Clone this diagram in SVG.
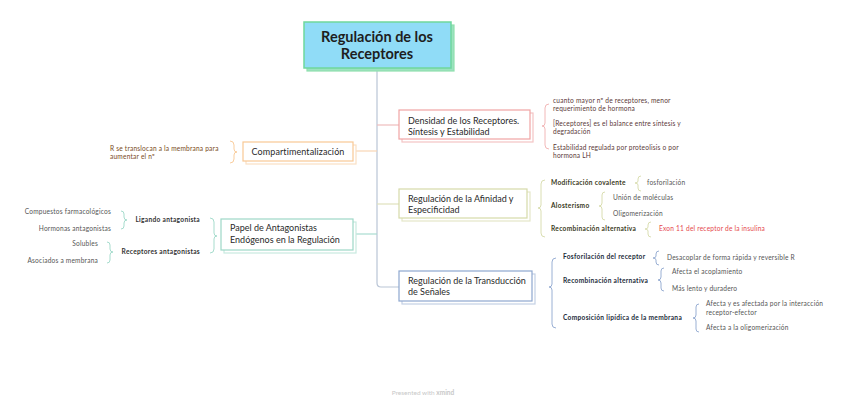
<svg xmlns="http://www.w3.org/2000/svg" width="848" height="404" viewBox="0 0 848 404">
<style>
text{font-family:Lato,"Noto Sans","Open Sans",sans-serif}
.title{font-size:14.5px;font-weight:bold;fill:#1e1e1e;text-anchor:middle}
.nt{font-size:9px;fill:#2a2a2a}
.leaf{font-size:6.6px;fill:#555;letter-spacing:0.2px}
.lab{font-size:6.6px;font-weight:bold;fill:#333;letter-spacing:0.3px}
.card{fill:#fff;stroke-width:1.2}
.br{fill:none;stroke-width:0.9}
.cn{fill:none;stroke-width:1.2}
</style>
<rect width="848" height="404" fill="#fff"/>
<g id="connectors">
<path class="cn" stroke="#b9c5d6" d="M377 71 V283 Q377 287 381 287 H399"/>
<path class="cn" stroke="#efbcbc" d="M377 125 H399"/>
<path class="cn" stroke="#dfe2bd" d="M377 204 H399"/>
<path class="cn" stroke="#f9d6b4" d="M377 151 H356"/>
<path class="cn" stroke="#a9ddd0" d="M377 234 H356"/>
</g>
<g id="central">
<rect x="307" y="25" width="147" height="46" fill="#9be2c0" stroke="#8fdfae" stroke-width="1.2"/>
<rect x="304" y="22" width="147" height="46" fill="#90dcf7" stroke="#6fd79c" stroke-width="1.5"/>
<text class="title" x="377" y="42">Regulación de los</text>
<text class="title" x="377" y="59">Receptores</text>
</g>
<g id="densidad">
<rect class="card" x="402" y="113" width="131" height="29" stroke="#f4c4c4"/>
<rect class="card" x="399" y="110" width="131" height="29" stroke="#f0a4a4"/>
<text class="nt" x="408" y="123.5">Densidad de los Receptores.</text>
<text class="nt" x="408" y="134.5">Síntesis y Estabilidad</text>
<path class="br" stroke="#f0b0b0" d="M549 104 Q545 104 545 108 V123 Q545 126 542 126 Q545 126 545 129 V145 Q545 149 549 149"/>
<text class="leaf" x="553" y="103" style="fill:#5a3838">cuanto mayor nº de receptores, menor</text>
<text class="leaf" x="553" y="111" style="fill:#5a3838">requerimiento de hormona</text>
<text class="leaf" x="553" y="126" style="fill:#5a3838">[Receptores] es el balance entre síntesis y</text>
<text class="leaf" x="553" y="134" style="fill:#5a3838">degradación</text>
<text class="leaf" x="553" y="150" style="fill:#5a3838">Estabilidad regulada por proteolisis o por</text>
<text class="leaf" x="553" y="158" style="fill:#5a3838">hormona LH</text>
</g>
<g id="afinidad">
<rect class="card" x="402" y="192" width="128" height="29" stroke="#e4e7c8"/>
<rect class="card" x="399" y="189" width="128" height="29" stroke="#d6daa9"/>
<text class="nt" x="408" y="202">Regulación de la Afinidad y</text>
<text class="nt" x="408" y="213">Especificidad</text>
<path class="br" stroke="#d6daa9" d="M545 180 Q541 180 541 184 V205 Q541 208 538 208 Q541 208 541 211 V233 Q541 237 545 237"/>
<text class="lab" x="551" y="185" style="fill:#3a3a22">Modificación covalente</text>
<text class="lab" x="551" y="208" style="fill:#3a3a22">Alosterismo</text>
<text class="lab" x="551" y="231" style="fill:#3a3a22">Recombinación alternativa</text>
<path class="br" stroke="#d6daa9" d="M641 176 Q638 176 638 179 V181 Q638 183 635 183 Q638 183 638 185 V188 Q638 191 641 191"/>
<text class="leaf" x="647" y="185">fosforilación</text>
<path class="br" stroke="#d6daa9" d="M605 192 Q602 192 602 195 V203 Q602 206 599 206 Q602 206 602 209 V217 Q602 220 605 220"/>
<text class="leaf" x="613" y="200">Unión de moléculas</text>
<text class="leaf" x="613" y="216">Oligomerización</text>
<path class="br" stroke="#d6daa9" d="M651 222 Q648 222 648 225 V227 Q648 229 645 229 Q648 229 648 231 V234 Q648 237 651 237"/>
<text class="leaf" x="659" y="231" style="fill:#e5484d">Exon 11 del receptor de la insulina</text>
</g>
<g id="transduccion">
<rect class="card" x="402" y="274" width="133" height="30" stroke="#c4d0e4"/>
<rect class="card" x="399" y="271" width="133" height="30" stroke="#8ea7cf"/>
<text class="nt" x="408" y="284">Regulación de la Transducción</text>
<text class="nt" x="408" y="295">de Señales</text>
<path class="br" stroke="#8ea7cf" d="M556 258 Q552 258 552 262 V284 Q552 287 549 287 Q552 287 552 290 V324 Q552 328 556 328"/>
<text class="lab" x="563" y="259" style="fill:#222b3a">Fosforilación del receptor</text>
<text class="lab" x="563" y="283" style="fill:#222b3a">Recombinación alternativa</text>
<text class="lab" x="563" y="320" style="fill:#222b3a">Composición lipídica de la membrana</text>
<path class="br" stroke="#8ea7cf" d="M659 251 Q656 251 656 254 V256 Q656 258 653 258 Q656 258 656 260 V262 Q656 265 659 265"/>
<text class="leaf" x="667" y="260">Desacoplar de forma rápida y reversible R</text>
<path class="br" stroke="#8ea7cf" d="M664 268 Q661 268 661 271 V277 Q661 280 658 280 Q661 280 661 283 V288 Q661 291 664 291"/>
<text class="leaf" x="672" y="274">Afecta el acoplamiento</text>
<text class="leaf" x="672" y="291">Más lento y duradero</text>
<path class="br" stroke="#8ea7cf" d="M699 304 Q696 304 696 307 V315 Q696 318 693 318 Q696 318 696 321 V329 Q696 332 699 332"/>
<text class="leaf" x="706" y="306">Afecta y es afectada por la interacción</text>
<text class="leaf" x="706" y="315">receptor-efector</text>
<text class="leaf" x="706" y="330">Afecta a la oligomerización</text>
</g>
<g id="compartimentalizacion">
<rect class="card" x="246" y="145" width="110" height="19" stroke="#fbe0c4"/>
<rect class="card" x="243" y="142" width="110" height="19" stroke="#f8c894"/>
<text class="nt" x="298" y="155" text-anchor="middle" letter-spacing="0.1">Compartimentalización</text>
<path class="br" stroke="#f8c894" d="M230 141 Q234 141 234 145 V149 Q234 152 237 152 Q234 152 234 155 V159 Q234 163 230 163"/>
<text class="leaf" x="110" y="151" style="fill:#7a4a22">R se translocan a la membrana para</text>
<text class="leaf" x="110" y="159" style="fill:#7a4a22">aumentar el nº</text>
</g>
<g id="papel">
<rect class="card" x="224" y="222" width="132" height="31" stroke="#c8eae0"/>
<rect class="card" x="221" y="219" width="132" height="31" stroke="#9dd8c7"/>
<text class="nt" x="230" y="231">Papel de Antagonistas</text>
<text class="nt" x="230" y="243">Endógenos en la Regulación</text>
<path class="br" stroke="#9dd8c7" d="M210 218 Q214 218 214 222 V233 Q214 236 217 236 Q214 236 214 239 V249 Q214 253 210 253"/>
<text class="lab" x="200" y="222" text-anchor="end">Ligando antagonista</text>
<text class="lab" x="200" y="254" text-anchor="end">Receptores antagonistas</text>
<path class="br" stroke="#9dd8c7" d="M121 211 Q124 211 124 214 V217 Q124 220 127 220 Q124 220 124 223 V226 Q124 229 121 229"/>
<text class="leaf" x="111" y="214" text-anchor="end">Compuestos farmacológicos</text>
<text class="leaf" x="111" y="231" text-anchor="end">Hormonas antagonistas</text>
<path class="br" stroke="#9dd8c7" d="M107 242 Q110 242 110 245 V249 Q110 252 113 252 Q110 252 110 255 V260 Q110 263 107 263"/>
<text class="leaf" x="98" y="246" text-anchor="end">Solubles</text>
<text class="leaf" x="98" y="263" text-anchor="end">Asociados a membrana</text>
</g>
<text x="423" y="395" text-anchor="middle" style="font-size:6.5px;fill:#c8c8c8">Presented with <tspan font-weight="bold">xmind</tspan></text>
</svg>
